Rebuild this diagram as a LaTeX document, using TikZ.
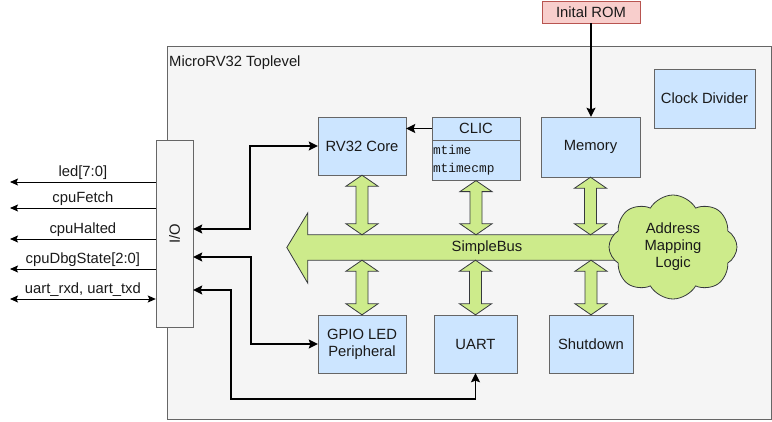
\documentclass[tikz,border=0pt]{standalone}
\usepackage{fontspec}
\setmainfont{Liberation Sans}
\setmonofont{Liberation Mono}
\usepackage{tikz}
\usetikzlibrary{arrows.meta,positioning,calc,shapes.symbols,backgrounds}
\definecolor{blockfill}{HTML}{CCE5FF}
\definecolor{blockline}{HTML}{666666}
\definecolor{busfill}{HTML}{CDEB8B}
\definecolor{busline}{HTML}{36393D}
\definecolor{romfill}{HTML}{F8CECC}
\definecolor{romline}{HTML}{B85450}
\definecolor{panelfill}{HTML}{F5F5F5}
\definecolor{textdark}{HTML}{1A1A1A}
\newcommand\dfont{\fontsize{14.8}{17}\selectfont}
% two headed fat arrow between an upper and a lower point
\newcommand\fatarrow[2]{%
  \draw[fat] let \p1=(#1), \p2=(#2) in
    (\x1,\y1) -- (\x1+16pt,\y1-11pt) -- (\x1+6pt,\y1-11pt) -- (\x1+6pt,\y2+11pt)
    -- (\x1+16pt,\y2+11pt) -- (\x1,\y2) -- (\x1-16pt,\y2+11pt) -- (\x1-6pt,\y2+11pt)
    -- (\x1-6pt,\y1-11pt) -- (\x1-16pt,\y1-11pt) -- cycle;}

\begin{document}
\begin{tikzpicture}[x=1pt,y=-1pt,
  block/.style={draw=blockline,fill=blockfill,minimum width=#1,minimum height=58,
    font=\dfont,text=textdark,align=center,inner sep=1pt},
  block/.default=88,
  fat/.style={draw=busline,fill=busfill,line width=0.8pt,line join=miter},
  conn/.style={line width=1.6pt,{Stealth[length=9pt,width=9pt,inset=1.5pt]}-{Stealth[length=9pt,width=9pt,inset=1.5pt]}},
  arr/.style={line width=1.2pt,-{Stealth[length=9pt,width=9pt,inset=1.5pt]}},
  sig/.style={line width=1pt,-{Stealth[length=8pt,width=7pt,inset=1.5pt]}},
  siglabel/.style={font=\dfont,text=textdark,above=-1.5pt},
]
  \useasboundingbox (0,0) rectangle (772,421);

  \begin{scope}[on background layer]
    \node[draw=blockline,fill=panelfill,minimum width=604,minimum height=373] (top) at (469,232.5) {};
  \end{scope}
  \node[anchor=west,font=\dfont,text=textdark,inner sep=1pt] (toptitle) at (168,63) {MicroRV32 Toplevel};

  % blocks
  \node[block] (core) at (362,146) {RV32 Core};
  \node[draw=blockline,fill=blockfill,minimum width=88,minimum height=23,font=\dfont,text=textdark,inner sep=1pt] (clic) at (476,128.5) {CLIC};
  \node[draw=blockline,fill=blockfill,minimum width=88,minimum height=40,text width=86,align=left,
    inner xsep=1pt,inner ysep=1pt,font=\ttfamily\fontsize{12.8}{18}\selectfont,text=textdark,anchor=north] (clicregs) at (clic.south) {mtime\\mtimecmp};
  \node[block=99,minimum height=60] (mem) at (590.5,147) {Memory};
  \node[block=101,minimum height=59] (clkdiv) at (704.5,98.5) {Clock Divider};
  \node[block] (gpio) at (362,344) {GPIO LED\\Peripheral};
  \node[block=83] (uart) at (475.5,344) {UART};
  \node[block=84] (shutdown) at (591,344) {Shutdown};
  \node[draw=romline,fill=romfill,minimum width=98,minimum height=22,font=\dfont,text=textdark,inner sep=1pt] (rom) at (591,12) {Inital ROM};

  % I/O block
  \node[draw=blockline,fill=panelfill,minimum width=37,minimum height=187] (io) at (174.5,233.5) {};
  \node[rotate=90,font=\dfont,text=textdark] (iolabel) at (io.center) {I/O};

  % bus
  \node[minimum width=358,minimum height=25,inner sep=0pt,font=\dfont,text=textdark] (bus) at (487,247.5) {SimpleBus};
  \begin{scope}[on background layer]
    \draw[fat] (bus.north east) -- (bus.north west) -- ++(0,-22) -- ($(bus.west)+(-21,0)$)
      -- ($(bus.south west)+(0,23)$) -- (bus.south west) -- (bus.south east) -- cycle;
  \end{scope}
  \node[cloud,cloud puffs=8,cloud puff arc=120,draw=busline,fill=busfill,line width=0.8pt,
    minimum width=128,minimum height=104,font=\dfont,text=textdark,align=center,inner sep=0pt] (addrmap) at (673,247) {Address\\Mapping\\Logic};

  \fatarrow{core.south}{core.south |- bus.north}
  \fatarrow{clicregs.south}{clicregs.south |- bus.north}
  \fatarrow{mem.south}{mem.south |- bus.north}
  \fatarrow{gpio.north |- bus.south}{gpio.north}
  \fatarrow{uart.north |- bus.south}{uart.north}
  \fatarrow{shutdown.north |- bus.south}{shutdown.north}

  % connections
  \draw[arr] (rom.south) -- (rom.south |- mem.north);
  \draw[arr] (clic.west) -- (core.east |- clic.west);
  \draw[conn] (core.west) -- ++(-68,0) |- ([yshift=4.5pt]io.east);
  \draw[conn] ([yshift=-23.5pt]io.east) -- ++(58,0) |- (gpio.west);
  \draw[conn] ([yshift=-56.5pt]io.east) -- ++(38,0) |- ($(uart.south)+(0,26)$) -- (uart.south);

  % outside signals
  \coordinate (led) at (10,182);
  \coordinate (fetch) at (10,208);
  \coordinate (halted) at (10,239);
  \coordinate (dbgstate) at (10,269);
  \coordinate (uartio) at (10,299);
  \draw[sig] (io.west |- led) -- (led) node[midway,siglabel] {led[7:0]};
  \draw[sig] (io.west |- fetch) -- (fetch) node[midway,siglabel] {cpuFetch};
  \draw[sig] (io.west |- halted) -- (halted) node[midway,siglabel] {cpuHalted};
  \draw[sig] (io.west |- dbgstate) -- (dbgstate) node[midway,siglabel] {cpuDbgState[2:0]};
  \draw[sig,{Stealth[length=8pt,width=7pt,inset=1.5pt]}-{Stealth[length=8pt,width=7pt,inset=1.5pt]}] (io.west |- uartio) -- (uartio) node[midway,siglabel] {uart\_rxd, uart\_txd};
\end{tikzpicture}
\end{document}
